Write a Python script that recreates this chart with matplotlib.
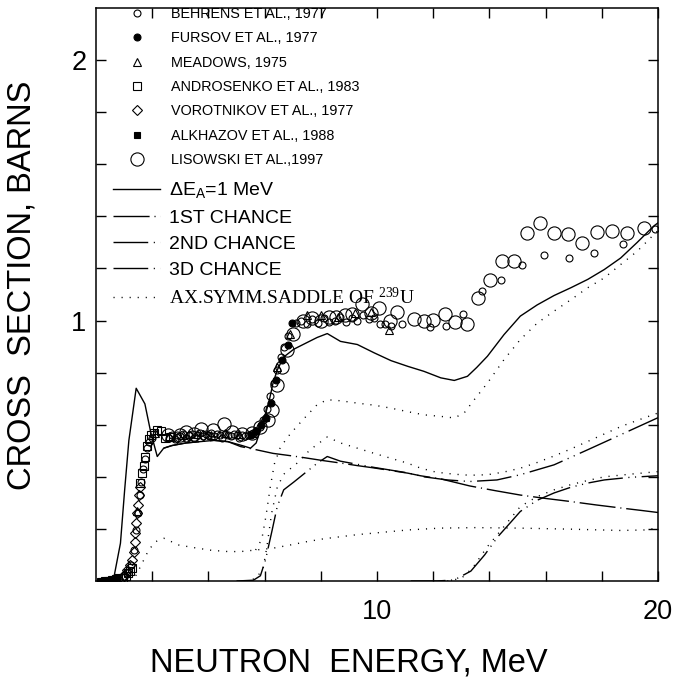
import matplotlib
matplotlib.use("Agg")
import matplotlib.pyplot as plt

plt.rcParams['font.family'] = ['Liberation Sans', 'DejaVu Sans']

# --- experimental fission cross sections (MeV, barns) ---
behrens_x = [1.0, 1.12, 1.25, 1.36, 1.44, 1.5, 1.55, 1.6, 1.66, 1.74, 1.82, 1.9, 2.0,
             2.6, 2.7, 2.8, 2.9, 3.0, 3.1, 3.2, 3.3, 3.4, 3.5, 3.6, 3.7, 3.8, 3.9, 4.0,
             4.1, 4.2, 4.3, 4.4, 4.5, 4.6, 4.7, 4.8, 4.9, 5.0, 5.1, 5.2, 5.3, 5.4, 5.5, 5.6,
             5.7, 5.82, 5.95, 6.08, 6.2, 6.32, 6.45, 6.58, 6.7, 6.82,
             7.1, 7.3, 7.5, 7.7, 7.9, 8.1, 8.3, 8.5, 8.7, 8.9, 9.1, 9.3, 9.5, 9.7, 9.9,
             10.1, 10.3, 10.5, 10.9,
             11.9, 12.46, 13.06, 13.74, 14.4, 15.17, 15.94, 16.83, 17.74, 18.76, 19.88]
behrens_y = [0.015, 0.03, 0.06, 0.12, 0.196, 0.26, 0.33, 0.38, 0.43, 0.47, 0.51, 0.535, 0.55,
             0.55, 0.56, 0.545, 0.56, 0.555, 0.565, 0.55, 0.56, 0.565, 0.55, 0.56, 0.57, 0.555,
             0.565, 0.56, 0.57, 0.555, 0.565, 0.56, 0.55, 0.565, 0.56, 0.555, 0.565, 0.56,
             0.55, 0.56, 0.555, 0.56, 0.565, 0.57,
             0.575, 0.59, 0.62, 0.66, 0.71, 0.76, 0.81, 0.86, 0.9, 0.94,
             0.99, 1.0, 0.985, 1.005, 0.99, 1.01, 0.995, 1.0, 1.015, 0.995, 1.01, 1.0,
             1.02, 1.005, 1.01, 0.987, 0.985, 0.98, 0.987,
             0.976, 0.978, 1.027, 1.115, 1.157, 1.212, 1.25, 1.242, 1.26, 1.292, 1.353]

fursov_x = [5.5, 5.68, 5.88, 6.05, 6.22, 6.4, 6.62, 6.82, 6.98]
fursov_y = [0.56, 0.575, 0.6, 0.626, 0.684, 0.773, 0.85, 0.908, 0.99]

meadows_x = [1.45, 2.1, 2.6, 3.1, 3.6, 4.1, 4.6, 5.1, 5.6, 6.0, 6.45, 6.9,
             7.5, 8.0, 8.6, 9.2, 9.77, 10.43]
meadows_y = [0.27, 0.57, 0.555, 0.56, 0.565, 0.56, 0.57, 0.565, 0.57, 0.63, 0.82, 0.95,
             1.023, 1.02, 1.015, 1.03, 1.032, 0.965]

androsenko_x = [0.95, 1.05, 1.15, 1.22, 1.28, 1.58, 1.63, 1.7, 1.76, 1.82, 1.88,
                1.95, 2.06, 2.18, 2.3, 2.47, 2.65]
androsenko_y = [0.012, 0.02, 0.03, 0.04, 0.05, 0.375, 0.413, 0.44, 0.478, 0.52, 0.545,
                0.56, 0.568, 0.578, 0.574, 0.549, 0.553]

vorotnikov_x = [0.8, 0.92, 1.0, 1.1, 1.2, 1.29, 1.34, 1.38, 1.4, 1.43, 1.47, 1.49, 1.53,
                1.56, 2.9, 3.3, 3.8]
vorotnikov_y = [0.006, 0.012, 0.022, 0.042, 0.06, 0.08, 0.112, 0.15, 0.183, 0.221, 0.26,
                0.29, 0.33, 0.36, 0.55, 0.555, 0.56]

alkhazov_x = [0.15, 0.22, 0.3, 0.38, 0.45, 0.52, 0.6, 0.68, 0.76]
alkhazov_y = [0.0, 0.001, 0.002, 0.003, 0.004, 0.006, 0.008, 0.011, 0.015]

lisowski_x = [2.55, 3.0, 3.22, 3.5, 3.75, 4.15, 4.55, 4.85, 5.2, 5.55, 5.85, 6.12, 6.27,
              6.45, 6.62, 6.8, 7.02, 7.35, 7.7, 8.0, 8.3, 8.55, 8.85, 9.1, 9.47, 9.78,
              10.06, 10.48, 10.72, 11.31, 11.66, 12.0, 12.43, 12.79, 13.2, 13.6, 14.02,
              14.44, 14.87, 15.33, 15.8, 16.3, 16.78, 17.3, 17.83, 18.37, 18.9, 19.5]
lisowski_y = [0.56, 0.56, 0.572, 0.565, 0.585, 0.579, 0.604, 0.572, 0.565, 0.57, 0.591,
              0.62, 0.655, 0.751, 0.82, 0.885, 0.95, 1.0, 1.01, 1.0, 1.012, 1.013, 1.02,
              1.026, 1.062, 1.03, 1.05, 1.0, 1.032, 1.006, 1.0, 1.004, 1.026, 0.993, 0.987,
              1.087, 1.155, 1.23, 1.23, 1.336, 1.375, 1.336, 1.334, 1.298, 1.34, 1.344,
              1.335, 1.357]

# --- calculated curves, dE_A = 1 MeV ---
total_x = [0.25, 0.63, 0.87, 1.02, 1.17, 1.43, 1.74, 1.95, 2.18, 2.41, 2.7, 3.2, 3.7,
           4.2, 4.7, 5.2, 5.5, 5.7, 5.85, 6.03, 6.18, 6.3, 6.45, 6.68, 7.04, 7.5, 7.87,
           8.23, 8.7, 9.3, 9.9, 10.5, 11.1, 11.67, 12.27, 12.75, 13.22, 13.55, 13.93,
           14.52, 15.1, 15.7, 16.3, 16.9, 17.5, 18.09, 18.67, 19.26, 19.85, 20.0]
total_y = [0.0, 0.01, 0.145, 0.35, 0.54, 0.74, 0.68, 0.57, 0.478, 0.51, 0.52, 0.53,
           0.535, 0.54, 0.535, 0.52, 0.51, 0.53, 0.58, 0.64, 0.7, 0.76, 0.81, 0.86,
           0.89, 0.915, 0.935, 0.95, 0.92, 0.908, 0.876, 0.846, 0.824, 0.805, 0.78,
           0.77, 0.786, 0.82, 0.863, 0.946, 1.017, 1.06, 1.096, 1.126, 1.158, 1.196,
           1.24, 1.3, 1.363, 1.375]

first_x = [2.41, 2.7, 3.2, 3.7, 4.2, 4.7, 5.15, 5.7, 6.3, 7.0, 7.5, 8.1, 8.7, 9.3, 9.9,
           10.5, 11.1, 11.55, 12.27, 13.3, 14.2, 15.1, 16.0, 16.9, 17.8, 18.7, 19.4, 20.0]
first_y = [0.51, 0.52, 0.53, 0.535, 0.54, 0.535, 0.516, 0.504, 0.49, 0.48, 0.472, 0.462,
           0.453, 0.443, 0.434, 0.424, 0.414, 0.404, 0.392, 0.365, 0.347, 0.33, 0.317,
           0.305, 0.292, 0.28, 0.271, 0.263]

second_x = [5.0, 5.6, 5.85, 6.03, 6.27, 6.45, 6.68, 7.04, 7.5, 7.87, 8.23, 8.7, 9.3,
            9.9, 11.1, 11.67, 12.5, 13.3, 14.27, 15.1, 16.3, 17.5, 18.68, 20.0]
second_y = [0.0, 0.003, 0.02, 0.08, 0.196, 0.286, 0.35, 0.38, 0.42, 0.452, 0.478, 0.46,
            0.448, 0.436, 0.415, 0.4, 0.388, 0.382, 0.388, 0.408, 0.446, 0.504, 0.562,
            0.627]

third_x = [11.2, 12.13, 12.75, 13.34, 13.83, 14.3, 14.78, 15.1, 15.7, 16.3, 16.9, 17.5,
           18.09, 19.0, 20.0]
third_y = [0.0, 0.0, 0.004, 0.038, 0.1, 0.17, 0.228, 0.267, 0.31, 0.338, 0.36, 0.376,
           0.388, 0.398, 0.404]

# --- axially symmetric outer saddle of 239U ---
sym_first_x = [1.2, 1.4, 1.58, 1.88, 2.12, 2.42, 2.95, 3.55, 4.1, 4.7, 5.15, 5.68, 6.3,
               6.9, 7.5, 8.1, 8.7, 9.3, 9.9, 11.1, 12.25, 13.5, 15.1, 16.9, 18.68, 19.5,
               20.0]
sym_first_y = [0.0, 0.017, 0.055, 0.12, 0.151, 0.164, 0.138, 0.127, 0.118, 0.113, 0.113,
               0.119, 0.126, 0.138, 0.151, 0.162, 0.17, 0.178, 0.184, 0.196, 0.203, 0.205,
               0.203, 0.199, 0.194, 0.196, 0.203]

sym_total_x = [5.68, 5.9, 6.05, 6.2, 6.35, 6.55, 6.8, 7.15, 7.5, 7.87, 8.23, 8.7, 9.3,
               9.9, 10.48, 11.1, 11.67, 12.27, 12.75, 13.1, 13.46, 13.93, 14.52, 15.1,
               15.7, 16.3, 16.9, 17.5, 18.09, 18.67, 19.26, 19.85, 20.0]
sym_total_y = [0.119, 0.16, 0.25, 0.36, 0.45, 0.51, 0.55, 0.594, 0.635, 0.677, 0.696,
               0.692, 0.683, 0.675, 0.664, 0.65, 0.638, 0.632, 0.626, 0.645, 0.696, 0.76,
               0.85, 0.927, 0.99, 1.036, 1.08, 1.126, 1.164, 1.215, 1.266, 1.33, 1.345]

sym_second_x = [5.3, 5.7, 5.95, 6.08, 6.25, 6.45, 6.68, 7.15, 7.62, 8.23, 8.7, 9.3, 9.9,
                11.1, 11.56, 12.1, 12.75, 13.3, 13.93, 14.5, 15.1, 15.7, 16.3, 16.9,
                17.5, 18.1, 18.7, 19.35, 20.0]
sym_second_y = [0.0, 0.01, 0.05, 0.13, 0.26, 0.36, 0.41, 0.452, 0.504, 0.553, 0.53,
                0.51, 0.49, 0.452, 0.433, 0.418, 0.41, 0.406, 0.408, 0.418, 0.433, 0.455,
                0.48, 0.507, 0.536, 0.565, 0.594, 0.62, 0.645]

sym_third_x = [12.5, 13.0, 13.4, 13.93, 14.52, 15.1, 15.7, 16.3, 16.9, 17.5, 18.09, 19.0,
               20.0]
sym_third_y = [0.0, 0.01, 0.05, 0.132, 0.209, 0.286, 0.324, 0.35, 0.37, 0.386, 0.4,
               0.41, 0.42]

W, H = 683, 692
fig = plt.figure(figsize=(W / 100, H / 100), dpi=100)
ax = fig.add_axes([96 / W, 1 - 581 / H, 562 / W, 573 / H])

pts = dict(linestyle='none', color='black', mec='black', mew=0.8)
h_beh, = ax.plot(behrens_x, behrens_y, marker='o', ms=5, mfc='none', **pts)
h_fur, = ax.plot(fursov_x, fursov_y, marker='o', ms=5, mfc='black', **pts)
h_mea, = ax.plot(meadows_x, meadows_y, marker='^', ms=6, mfc='none', **pts)
h_and, = ax.plot(androsenko_x, androsenko_y, marker='s', ms=5.5, mfc='none', **pts)
h_vor, = ax.plot(vorotnikov_x, vorotnikov_y, marker='D', ms=5, mfc='none', **pts)
h_alk, = ax.plot(alkhazov_x, alkhazov_y, marker='s', ms=4.5, mfc='black', **pts)
h_lis, = ax.plot(lisowski_x, lisowski_y, marker='o', ms=9.5, mfc='none', **pts)

# dash patterns in points (lw = 1, so no scaling)
dash_dot = (0, (26, 3.5, 0.8, 3.5))
dash_dot_dot = (0, (25, 4, 0.8, 4, 0.8, 4))
dots = (0, (0.8, 5))

h_tot, = ax.plot(total_x, total_y, color='black', lw=1.0)
h_1st, = ax.plot(first_x, first_y, color='black', lw=1.0, linestyle=dash_dot)
h_2nd, = ax.plot(second_x, second_y, color='black', lw=1.0, linestyle=dash_dot_dot)
h_3rd, = ax.plot(third_x, third_y, color='black', lw=1.0, linestyle=dash_dot_dot)
h_sym, = ax.plot(sym_total_x, sym_total_y, color='black', lw=1.0, linestyle=dots)
ax.plot(sym_first_x, sym_first_y, color='black', lw=1.0, linestyle=dots)
ax.plot(sym_second_x, sym_second_y, color='black', lw=1.0, linestyle=dots)
ax.plot(sym_third_x, sym_third_y, color='black', lw=1.0, linestyle=dots)

ax.set_xlim(0, 20)
ax.set_ylim(0, 2.2)
ax.set_xticks([10, 20])
ax.set_xticks([2, 4, 6, 8, 12, 14, 16, 18], minor=True)
ax.set_yticks([1, 2])
ax.set_yticks([0.2, 0.4, 0.6, 0.8, 1.2, 1.4, 1.6, 1.8], minor=True)
ax.tick_params(which='both', direction='in', top=True, right=True, length=7, width=1)
ax.tick_params(axis='x', labelsize=19.5, pad=13)
ax.tick_params(axis='y', labelsize=19.5, pad=7)
for s in ax.spines.values():
    s.set_linewidth(1.1)

leg1 = ax.legend([h_beh, h_fur, h_mea, h_and, h_vor, h_alk, h_lis],
                 ['BEHRENS ET AL., 1977', 'FURSOV ET AL., 1977', 'MEADOWS, 1975',
                  'ANDROSENKO ET AL., 1983', 'VOROTNIKOV ET AL., 1977',
                  'ALKHAZOV ET AL., 1988', 'LISOWSKI ET AL.,1997'],
                 loc='upper left', bbox_to_anchor=(0.030, 1.002), frameon=False,
                 fontsize=10.4, handlelength=3.3, handletextpad=0.7, labelspacing=0.72,
                 borderpad=0, borderaxespad=0, numpoints=1)
ax.add_artist(leg1)

leg2 = ax.legend([h_tot, h_1st, h_2nd, h_3rd, h_sym],
                 ['ΔE$_{\\mathregular{A}}$=1 MeV', '1ST CHANCE', '2ND CHANCE', '3D CHANCE',
                  'AX.SYMM.SADDLE OF $\\mathregular{^{239}}$U'],
                 loc='upper left', bbox_to_anchor=(0.030, 0.698), frameon=False,
                 fontsize=14, handlelength=2.4, handletextpad=0.5, labelspacing=0.42,
                 borderpad=0, borderaxespad=0)
leg2.get_texts()[4].set_fontfamily(['Liberation Serif', 'DejaVu Serif'])

fig.text(349 / W, 1 - 672 / H, 'NEUTRON  ENERGY, MeV', fontsize=23.5,
         ha='center', va='baseline')
fig.text(22 / W, 1 - 285 / H, 'CROSS  SECTION, BARNS', fontsize=23.5,
         ha='center', va='center', rotation=90)

fig.savefig('out.png', dpi=100)
